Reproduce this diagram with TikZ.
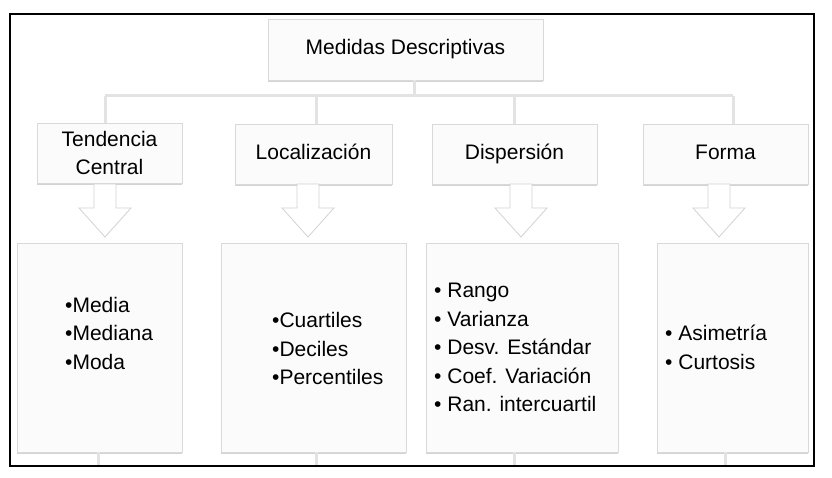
\documentclass[tikz,border=0pt]{standalone}
\usepackage{fontspec}
\setmainfont{Liberation Sans}
\usetikzlibrary{shadows}

\begin{document}
\begin{tikzpicture}[x=1pt,y=-1pt,
  caja/.style={draw=gray!30, fill=gray!3, inner sep=0pt,
    drop shadow={shadow xshift=0pt,shadow yshift=-2pt,opacity=.35},
    font=\fontsize{21}{28.5}\selectfont},
  linea/.style={text height=15pt, text depth=4.5pt},
  lista/.style={anchor=west, align=left, inner sep=0pt, font=\fontsize{21}{28.5}\selectfont},
  rama/.style={draw=gray!22, line width=3pt},
  flecha/.style={draw=gray!35, fill=white, line width=.8pt}]
\useasboundingbox (0,0) rectangle (832,478);

\coordinate (hub) at (414,96);
\coordinate (h1) at (105,96);
\coordinate (h2) at (316,96);
\coordinate (h3) at (514,96);
\coordinate (h4) at (733,96);
\coordinate (s1) at (98,466);
\coordinate (s2) at (316,466);
\coordinate (s3) at (514,466);
\coordinate (s4) at (725,466);

\node[caja, linea, minimum width=275pt, minimum height=61pt] (top) at (405.5,49.5) {Medidas Descriptivas};

\node[caja, minimum width=145pt, minimum height=60pt, align=center] (t1) at (109.5,153) {Tendencia\\Central};
\node[caja, linea, minimum width=157pt, minimum height=60pt] (t2) at (313.5,154) {Localización};
\node[caja, linea, minimum width=165pt, minimum height=60pt] (t3) at (514.5,154) {Dispersión};
\node[caja, linea, minimum width=165pt, minimum height=60pt] (t4) at (725.5,154) {Forma};

\node[caja, minimum width=165pt, minimum height=209pt] (b1) at (99.5,347.5) {};
\node[caja, minimum width=185pt, minimum height=209pt] (b2) at (313.5,347.5) {};
\node[caja, minimum width=192pt, minimum height=209pt] (b3) at (522,347.5) {};
\node[caja, minimum width=151pt, minimum height=209pt] (b4) at (732.5,347.5) {};

% ramas
\draw[rama] (top.south -| hub) -- (hub);
\draw[rama] (h1) -- (h4);
\foreach \n in {1,...,4}
  \draw[rama] (h\n) -- (t\n.north -| h\n);
\foreach \n in {1,...,4}
  \draw[rama] (b\n.south -| s\n) -- (s\n);

% flechas
\foreach \n/\x in {1/105,2/308,3/521,4/719}
  \draw[flecha] (\x-11,184) -- (\x+11,184) -- (\x+11,208) -- (\x+26,208) -- (\x,237)
    -- (\x-26,208) -- (\x-11,208) -- cycle;

\node[lista] (l1) at (65,333) {•Media\\•Mediana\\•Moda};
\node[lista] (l2) at (272,348.5) {•Cuartiles\\•Deciles\\•Percentiles};
\node[lista] (l3) at (434,347.5) {• Rango\\• Varianza\\• Desv. Estándar\\• Coef. Variación\\• Ran. intercuartil};
\node[lista] (l4) at (665,347.5) {• Asimetría\\• Curtosis};

\draw[line width=2pt] (10,14) rectangle (814,466);
\end{tikzpicture}
\end{document}
